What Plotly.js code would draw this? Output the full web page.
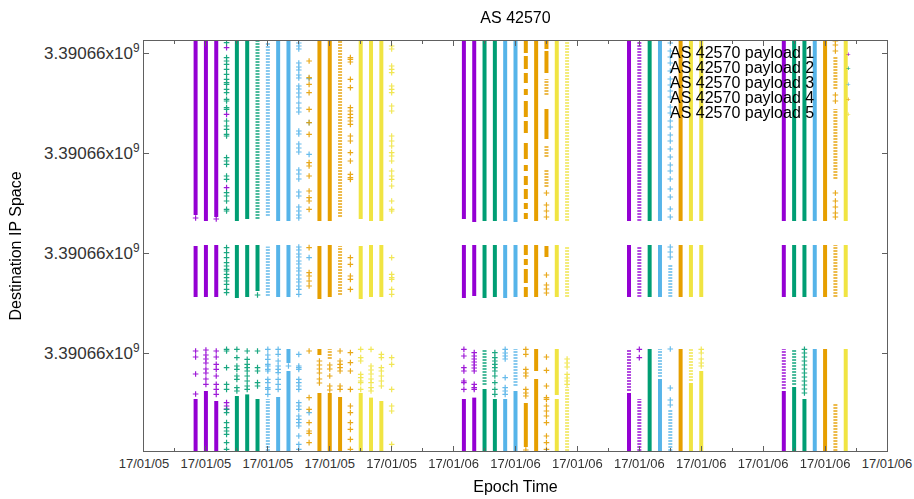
<!DOCTYPE html>
<html><head><meta charset="utf-8">
<script src="https://cdn.plot.ly/plotly-3.0.1.min.js"></script>
<style>html,body{margin:0;padding:0;background:#fff}#chart{width:914px;height:499px}</style>
</head><body><div id="chart"></div>
<script>
// y values are offsets from this destination IP (integer address)
const Y_BASE = 3390659951;
const seriesNames = ['AS 42570 payload 1','AS 42570 payload 2','AS 42570 payload 3','AS 42570 payload 4','AS 42570 payload 5'];
const seriesColors = ['#9400d3','#009e73','#56b4e9','#e69f00','#f0e442'];
const yTickVals = [49, 99, 149, 199];
const yTickText = ['3.39066x10<sup>9</sup>','3.39066x10<sup>9</sup>','3.39066x10<sup>9</sup>','3.39066x10<sup>9</sup>'];

// payload 1
const p1Times = ['2017-01-05 11:30','2017-01-05 12:00','2017-01-05 12:30','2017-01-05 13:00','2017-01-06 00:30','2017-01-06 01:00','2017-01-06 08:30','2017-01-06 09:00','2017-01-06 16:00'];
const p1Dense = [[[118,205],[77,102.5],[0,26]],[[115,205],[77,103],[0,30]],[[117,205],[77,103],[0,25]],[],[[116,205],[76.5,103],[0,26]],[[114.5,205],[77.5,103],[0,26.7]],[[115,205],[77,103],[0,29]],[],[[115,205],[77,103],[0,30]]];
const p1Semi = [[],[],[],[],[],[],[[30,51]],[[115,205],[77,102],[0,26]],[[31,51]]];
const p1Points = [[116.5,50,47,38.5,28.5],[50.5,48,46,44,41,39,36,33.3],[116,50,47,43.3,40.8,37.5,33.3,30.8,28.3],[201.7,168.3,131.7,24.2,22.5,21],[50.8,47.5,41.7,40,35,34.2,30.8],[49.2,47.5,46,44.5,43,41.5,40,33.3,31.7,30.8],[],[50.8,46.7],[]];

// payload 2
const p2Times = ['2017-01-05 13:00','2017-01-05 13:30','2017-01-05 14:00','2017-01-05 14:30','2017-01-06 01:30','2017-01-06 02:00','2017-01-06 09:30','2017-01-06 16:30','2017-01-06 17:00'];
const p2Dense = [[],[[115,205],[76.5,103],[0,27.5]],[[116,205],[77,103],[0,28.3]],[[80,103],[0,26]],[[115,205],[76.5,103],[0,31]],[[115,205],[77,103],[0,26]],[[115,205],[77,103],[0,51]],[[115,205],[77,103],[0,32]],[[115,205],[77,103],[0,26]]];
const p2Semi = [[],[],[],[[116,205]],[[33,51]],[],[],[[33,51]],[]];
const p2Points = [[204.2,196.7,195,193.3,190.8,188.3,185.8,184.2,183.3,180.8,179.2,175.8,175,171.7,170.8,165,162.5,160.8,158.3,157.5,146.7,145,143.3,137.5,135.8,129.2,127.5,125,120.8,120,101.7,99.2,96.7,94.2,92.5,90.8,90,88.3,86.7,85,83.3,80.8,79.2,50.8,50,41.7,33.3,30.8,20.8,19.2,14.2,11.7,10,8.3,4.2,0.8],[50.8,46.7,42.5,40.8,37.5,35.8,31.7,30],[50,45.8,43.3,41.7,40,37.5,35,32.5,30.8],[78,50,41.7,40,34.2,32.5],[],[49.2,46.7,45,43.3,41.7,40,37.5,34.2,30.8,28.3],[],[],[50.8,49,47,45,43,41,39,37,35,33,31,29]];

// payload 3
const p3Times = ['2017-01-05 15:00','2017-01-05 15:30','2017-01-05 16:00','2017-01-05 16:30','2017-01-05 17:00','2017-01-06 02:30','2017-01-06 03:00','2017-01-06 10:00','2017-01-06 10:30','2017-01-06 17:30'];
const p3Dense = [[],[[115,205],[77,103],[0,27]],[[115,205],[77,103],[0,40],[44,51]],[],[],[[115,205],[76.5,103],[0,26]],[[114.5,205],[77,103],[0,30]],[[115,205],[77,103],[0,36]],[],[[115,205],[77,103],[0,51]]];
const p3Semi = [[[117.5,204],[77.5,102.2],[0,26]],[],[],[],[],[],[[32.5,51]],[[37,51]],[[77,93],[0,21]],[]];
const p3Points = [[50.8,48,45.8,43.3,42.5,40.8,40,35.8,34.2,31.7,30.8,28.3],[50.8,48.3,45,42.5,40.8,39.2,35.8,33.3,30.8],[42.5],[204,202.5,201,194,192,190.5,188,186.5,182.5,181,179,177,174,171.5,169.5,160,158.5,153.5,151.5,149.5,140.5,138.5,136,129.5,127.5,122,120,118,116.5,102,100.5,98.5,97,95,93.5,91.5,90,88,86,84.5,82.5,80.8,78.3,48.3,42.5,41.7,40.8,35.8,34.2,32.5,30.8,24.2,22.5,20.8,17.5,15.8,14.2,12.5,7.5,3.3,0.8],[186.2,164.2,148.3,96.7,19.2],[50.8,49,47.5,46,36.7,31.7,30,28.3],[],[],[204,200,197,194,190,186,183,180,177,172,169,165,162,158,155,151,147,143,140,136,131,127,121,117,102,99.5,97,51,31.5,25.5,23],[]];

// payload 4
const p4Times = ['2017-01-05 17:00','2017-01-05 17:30','2017-01-05 18:00','2017-01-05 18:30','2017-01-05 19:00','2017-01-06 03:30','2017-01-06 04:00','2017-01-06 04:30','2017-01-06 11:00','2017-01-06 18:00','2017-01-06 18:30'];
const p4Dense = [[],[[115,205],[76,102.5],[0,29],[48,51]],[[115,205],[77,103],[0,29]],[[0,27]],[],[[199,205],[191,197.5],[184,189],[178,181],[167,175],[159,165],[146,154],[140,143],[133,137.5],[126,131],[121,124],[116,119],[98,103],[93,96],[84,91],[77,82],[2,24]],[[115,205],[77,103],[0,36],[40,51]],[[201,205],[189,200],[156,171],[97,102.5]],[[115,205],[77,103],[0,51]],[[115,205],[77,103],[0,51]],[]];
const p4Semi = [[],[],[[46,51]],[[117,205],[78,102.5]],[],[],[],[[178,186],[147,152.5],[132,141]],[],[],[[181,197],[136,171],[77,103],[0,24]]];
const p4Points = [[195,186.7,183.3,179.2,170.8,164.2,158.3,144.2,142.5,137.5,130,126.7,125,120.8,101.7,89.2,87.5,85,82.5,50,26.7,20.8,14.2,10,8.8,4.2],[45,43,41,39,36,34],[43,41,37.5,32.5,30.5],[50,45,43.3,41.7,40,32.5,30.8],[196.7,195.8,194.5,185.8,181.7,171.7,170,168.3,166.7,165,163.3,157.5,155,149.2,145,138.3,136.7,135.8,96.7,93.3,87.5,85.8,80.8,49.2,44.2,40,30.8,22.5,19.2,14.2,10.8,5.8,0.8],[50.8,48.3,40.8,39,37.5,30.8,29,27.5,0.5],[],[129,123,120,117,88,83,81,79,47,40.3,32.5,26.7,25.8,22.5,20,17.5,14.2,7.5,4.2,0.8],[],[],[205,203,200,178,175,129,125,122,119,117]];

// payload 5
const p5Times = ['2017-01-05 19:30','2017-01-05 20:00','2017-01-05 20:30','2017-01-05 21:00','2017-01-06 05:00','2017-01-06 05:30','2017-01-06 11:30','2017-01-06 12:00','2017-01-06 19:00'];
const p5Dense = [[[116,205],[76,102.5],[0,29]],[[115,205],[77,103],[0,26.7]],[[115,205],[77,103],[0,25]],[],[[115,205],[77,103],[0,26],[28,51]],[],[[115,205],[77,103],[0,34]],[[115,205],[77,103],[0,40]],[[115,205],[77,103],[0,51]]];
const p5Semi = [[],[],[],[],[],[[115,205],[77,102],[0,32]],[[35,51]],[],[]];
const p5Points = [[50.8,46.7,45,38.3,36.7,35,34.2,30.8],[50.8,42.5,40.5,38.5,36,34.2,31.7,30],[48.3,46.7,41.7,40,37.5,35,32.5],[202.5,201,192.5,190.8,189.2,182.5,180.8,179.2,172.5,170,157.5,155,152.5,149.2,147.5,145,140,137.5,135.8,132.5,125,120.8,120,96.7,88.3,86.7,85.8,80.8,78.3,46.7,43.3,30.8,22.5,20,3.3],[],[46,44,42,38.3,36.5,35,33.3],[],[50.8,49,46,44,42.5],[]];

const payloads = [
  [p1Times,p1Dense,p1Semi,p1Points],
  [p2Times,p2Dense,p2Semi,p2Points],
  [p3Times,p3Dense,p3Semi,p3Points],
  [p4Times,p4Dense,p4Semi,p4Points],
  [p5Times,p5Dense,p5Semi,p5Points]
];

function segXY(times, segs) {
  const x = [], y = [];
  segs.forEach((list, i) => list.forEach(([lo, hi]) => {
    x.push(times[i], times[i], null);
    y.push(Y_BASE + lo, Y_BASE + hi, null);
  }));
  return {x, y};
}
function ptXY(times, pts) {
  const x = [], y = [];
  pts.forEach((list, i) => list.forEach(v => { x.push(times[i]); y.push(Y_BASE + v); }));
  return {x, y};
}

const traces = [];
payloads.forEach(([times, dense, semi, pts], k) => {
  const c = seriesColors[k];
  const d = segXY(times, dense);
  traces.push({type:'scatter', mode:'lines', name:seriesNames[k], x:d.x, y:d.y, connectgaps:false,
    line:{color:c, width:4}, showlegend:false, hoverinfo:'skip'});
  const s = segXY(times, semi);
  traces.push({type:'scatter', mode:'lines', name:seriesNames[k], x:s.x, y:s.y, connectgaps:false,
    line:{color:c, width:4, dash:'2px,1px'}, opacity:0.7, showlegend:false, hoverinfo:'skip'});
  const p = ptXY(times, pts);
  traces.push({type:'scatter', mode:'markers', name:seriesNames[k], x:p.x, y:p.y, opacity:0.9,
    marker:{symbol:'cross-thin', size:4, color:c, line:{color:c, width:1.2}}, showlegend:false});
});

const axisCol = '#606060';
const legendY = [52.5, 67.5, 82.5, 97.5, 112.5];
const annotations = [];
seriesNames.forEach((n, k) => {
  annotations.push({xref:'paper', yref:'paper', x:(816-144)/743, y:(451-legendY[k])/410,
    xanchor:'right', yanchor:'middle', text:n, showarrow:false,
    font:{family:'Liberation Sans, Arial, sans-serif', size:16, color:'#000'}});
  annotations.push({xref:'paper', yref:'paper', x:(848-144)/743, y:(451-legendY[k]-1.5)/410,
    xanchor:'center', yanchor:'middle', text:'+', showarrow:false,
    font:{family:'Liberation Sans, Arial, sans-serif', size:8, color:seriesColors[k]}});
});

const layout = {
  width:914, height:499,
  margin:{l:144, r:27, t:41, b:48, pad:0},
  paper_bgcolor:'#ffffff', plot_bgcolor:'#ffffff',
  font:{family:'Liberation Sans, Arial, sans-serif', size:16, color:'#000'},
  showlegend:false,
  title:{text:'AS 42570', x:0.5, xref:'paper', xanchor:'center', y:1-17/499, yref:'container', yanchor:'middle',
    font:{size:16, color:'#000'}},
  xaxis:{type:'date', range:['2017-01-05 09:00','2017-01-06 21:00'],
    tick0:'2017-01-05 09:00', dtick:3*3600*1000, tickformat:'%y/%m/%d',
    ticks:'inside', ticklen:5, tickcolor:axisCol, tickwidth:1,
    showline:true, linecolor:axisCol, linewidth:1, mirror:'allticks',
    showgrid:false, zeroline:false, tickfont:{size:13, color:'#333'},
    minor:{dtick:1.5*3600*1000, tick0:'2017-01-05 09:00', ticks:'inside', ticklen:3, tickcolor:axisCol, showgrid:false},
    title:{text:'Epoch Time', font:{size:16, color:'#000'}, standoff:11}},
  yaxis:{range:[Y_BASE, Y_BASE+205], tickvals:yTickVals.map(v=>Y_BASE+v), ticktext:yTickText,
    ticks:'inside', ticklen:5, tickcolor:axisCol, tickwidth:1,
    showline:true, linecolor:axisCol, linewidth:1, mirror:'allticks',
    showgrid:false, zeroline:false, tickfont:{size:17, color:'#333'},
    title:{text:'Destination IP Space', font:{size:16, color:'#000'}, standoff:18}},
  annotations: annotations
};

Plotly.newPlot('chart', traces, layout, {displayModeBar:false, staticPlot:true});
</script></body></html>
